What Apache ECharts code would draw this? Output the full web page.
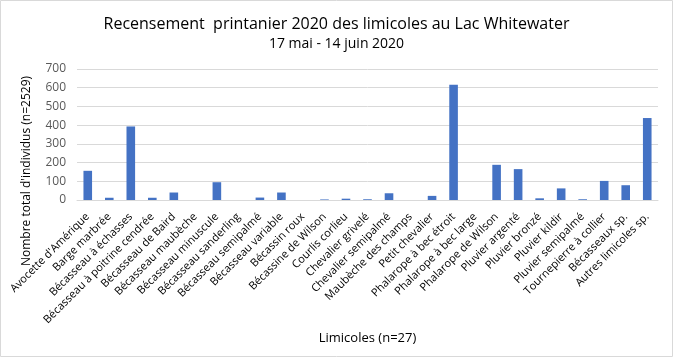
<!DOCTYPE html>
<html><head><meta charset="utf-8">
<script src="https://cdn.jsdelivr.net/npm/echarts@6/dist/echarts.min.js"></script>
<style>html,body{margin:0;padding:0;background:#fff}#c{width:673px;height:357px}</style>
</head><body><div id="c"></div>
<script>
const categories = ["Avocette d'Amérique","Barge marbrée","Bécasseau à échasses","Bécasseau à poitrine cendrée","Bécasseau de Baird","Bécasseau maubèche","Bécasseau minuscule","Bécasseau sanderling","Bécasseau semipalmé","Bécasseau variable","Bécassin roux","Bécassine de Wilson","Courlis corlieu","Chevalier grivelé","Chevalier semipalmé","Maubèche des champs","Petit chevalier","Phalarope à bec étroit","Phalarope à bec large","Phalarope de Wilson","Pluvier argenté","Pluvier bronzé","Pluvier kildir","Pluvier semipalmé","Tournepierre à collier","Bécasseaux sp.","Autres limicoles sp."];
const counts = [156,12,393,12,40,0,95,0,13,40,0,3,7,4,36,0,22,616,0,188,165,9,62,4,102,79,438];
const yTicks = {min:0,max:700,interval:100};
const titleText = "Recensement  printanier 2020 des limicoles au Lac Whitewater";
const subtitleText = "17 mai - 14 juin 2020";
const yName = "Nombre total d'individus (n=2529)";
const xName = "Limicoles (n=27)";
const F = "'Open Sans', 'Liberation Sans', sans-serif";
const chart = echarts.init(document.getElementById('c'));
chart.setOption({
  animation:false,
  graphic:[
    {type:'rect',shape:{x:0.5,y:0.5,width:672,height:356},style:{fill:'none',stroke:'#d9d9d9',lineWidth:1},z:-1},
    {type:'text',x:27,y:171,rotation:Math.PI/2,style:{text:yName,font:"12px 'Open Sans', 'Liberation Sans', sans-serif",fill:'#000',textAlign:'center',textVerticalAlign:'middle'}}
  ],
  title:{text:titleText,subtext:subtitleText,left:'center',top:11,itemGap:5,
    textStyle:{fontFamily:F,fontSize:16,fontWeight:'normal',color:'#000'},
    subtextStyle:{fontFamily:F,fontSize:14,color:'#000'}},
  grid:{left:77,right:15,top:69,bottom:157,containLabel:false},
  xAxis:{type:'category',data:categories,
    name:xName,nameLocation:'middle',nameGap:132,
    nameTextStyle:{fontFamily:F,fontSize:13,color:'#000'},
    axisLine:{lineStyle:{color:'#d9d9d9'}},axisTick:{show:false},
    axisLabel:{interval:0,rotate:45,fontFamily:F,fontSize:11,color:'#000',margin:15}},
  yAxis:{type:'value',min:yTicks.min,max:yTicks.max,interval:yTicks.interval,
    axisLine:{show:false},axisTick:{show:false},
    axisLabel:{fontFamily:F,fontSize:12,color:'#595959',margin:11},
    splitLine:{lineStyle:{color:'#d9d9d9'}}},
  series:[{type:'bar',data:counts,barWidth:'40%',itemStyle:{color:'#4472C4'}}]
});
</script></body></html>
